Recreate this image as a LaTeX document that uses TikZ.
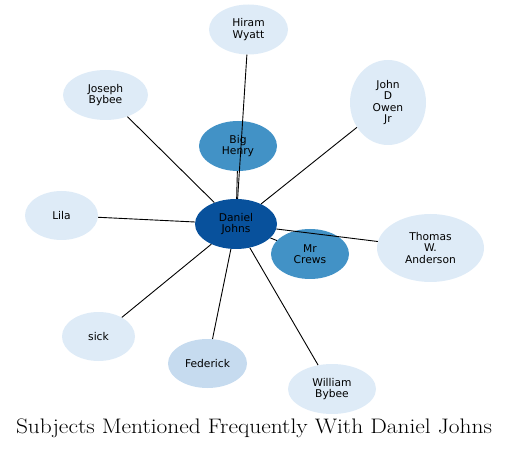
\documentclass[tikz,border=0pt]{standalone}
\usepackage{fontspec}
\newfontfamily\nodefont{DejaVu Sans}
\usetikzlibrary{shapes.geometric}
\definecolor{cdark}{HTML}{08519C}
\definecolor{cmid}{HTML}{4292C6}
\definecolor{clight}{HTML}{C6DBEF}
\definecolor{cpale}{HTML}{DEEBF7}
\tikzset{
  ent/.style={ellipse, draw=none, inner sep=0pt, align=center,
    font=\nodefont\fontsize{10.7}{11.6}\selectfont, text=black},
  link/.style={draw=black, line width=0.9pt},
}
\begin{document}
\begin{tikzpicture}[x=1pt,y=-1pt]
\useasboundingbox (0,0) rectangle (509,449);
\node[ent, fill=cdark, minimum width=82pt, minimum height=50pt] (dj) at (236,224) {Daniel\\Johns};
\node[ent, fill=cmid, minimum width=78pt, minimum height=50pt] (bh) at (238,146) {Big\\Henry};
\node[ent, fill=cpale, minimum width=79pt, minimum height=50pt] (hw) at (248.5,29.5) {Hiram\\Wyatt};
\node[ent, fill=cpale, minimum width=85pt, minimum height=50pt] (jb) at (105.5,95) {Joseph\\Bybee};
\node[ent, fill=cpale, minimum width=76pt, minimum height=85pt] (jo) at (388,102.5) {John\\D\\Owen\\Jr};
\node[ent, fill=cpale, minimum width=73pt, minimum height=49pt] (li) at (61.5,215.5) {Lila};
\node[ent, fill=cpale, minimum width=107pt, minimum height=68pt] (ta) at (430.5,248) {Thomas\\W.\\Anderson};
\node[ent, fill=cmid, minimum width=78pt, minimum height=50pt] (mc) at (310,254) {Mr\\Crews};
\node[ent, fill=cpale, minimum width=73pt, minimum height=49pt] (si) at (98.5,336.5) {sick};
\node[ent, fill=clight, minimum width=79pt, minimum height=49pt] (fe) at (207.5,363.5) {Federick};
\node[ent, fill=cpale, minimum width=88pt, minimum height=50pt] (wb) at (332,389) {William\\Bybee};
\draw[link] (dj) -- (bh);
\draw[link] (dj) -- (hw);
\draw[link] (dj) -- (jb);
\draw[link] (dj) -- (jo);
\draw[link] (dj) -- (li);
\draw[link] (dj) -- (ta);
\draw[link] (dj) -- (mc);
\draw[link] (dj) -- (si);
\draw[link] (dj) -- (fe);
\draw[link] (dj) -- (wb);
\node[anchor=base, inner sep=0pt, font=\fontsize{21}{25}\selectfont] (title) at (254,433) {\scalebox{1.115}[1]{Subjects Mentioned Frequently With Daniel Johns}};
\end{tikzpicture}
\end{document}
